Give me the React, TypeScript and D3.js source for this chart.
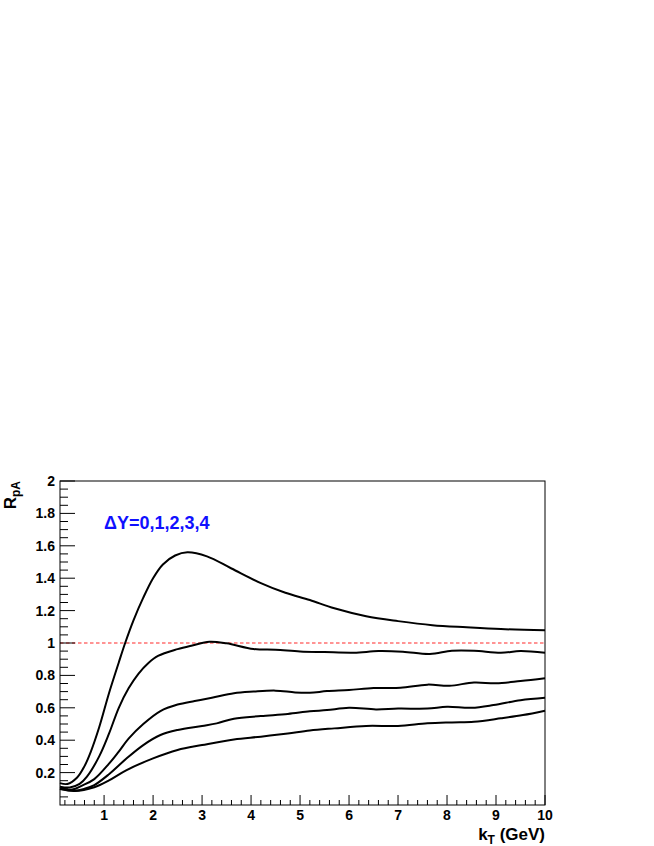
import React from "react";
import * as d3 from "d3";

const W = 654;
const H = 846;

const kT0 = [0.1, 0.25, 0.45, 0.6, 0.73, 0.9, 1.1, 1.3, 1.43, 1.6, 1.8, 2.0, 2.2, 2.45, 2.7, 3.1, 3.6, 4.2, 4.7, 5.2, 5.7, 6.35, 7.0, 7.7, 8.4, 9.1, 10];
const r0 = [0.135, 0.13, 0.17, 0.24, 0.33, 0.48, 0.69, 0.88, 1.0, 1.14, 1.28, 1.4, 1.485, 1.54, 1.56, 1.535, 1.46, 1.37, 1.31, 1.265, 1.214, 1.165, 1.135, 1.11, 1.097, 1.086, 1.078];

const kT1 = [0.1, 0.3, 0.5, 0.65, 0.9, 1.1, 1.3, 1.5, 1.7, 1.9, 2.1, 2.5, 2.8, 3.15, 3.5, 4.05, 4.5, 5.0, 5.5, 6.1, 6.6, 7.1, 7.65, 8.1, 8.55, 9.1, 9.5, 10];
const r1 = [0.113, 0.108, 0.13, 0.175, 0.3, 0.44, 0.6, 0.72, 0.81, 0.875, 0.92, 0.962, 0.985, 1.008, 0.998, 0.963, 0.958, 0.948, 0.944, 0.94, 0.95, 0.946, 0.932, 0.952, 0.952, 0.94, 0.95, 0.94];

const kT2 = [0.1, 0.35, 0.55, 0.8, 1.1, 1.3, 1.5, 1.8, 2.15, 2.5, 2.85, 3.2, 3.65, 4.05, 4.5, 4.9, 5.2, 5.55, 6.0, 6.5, 7.05, 7.6, 8.05, 8.55, 9.0, 9.5, 10];
const r2 = [0.103, 0.095, 0.12, 0.16, 0.255, 0.33, 0.41, 0.5, 0.58, 0.62, 0.642, 0.662, 0.69, 0.7, 0.706, 0.695, 0.693, 0.703, 0.71, 0.722, 0.724, 0.743, 0.736, 0.756, 0.751, 0.765, 0.782];

const kT3 = [0.1, 0.4, 0.6, 0.8, 1.1, 1.45, 1.8, 2.15, 2.5, 3.0, 3.3, 3.65, 4.2, 4.75, 5.2, 5.55, 6.0, 6.55, 7.0, 7.6, 8.0, 8.5, 8.95, 9.5, 10];
const r3 = [0.1, 0.088, 0.1, 0.123, 0.19, 0.285, 0.37, 0.432, 0.463, 0.488, 0.504, 0.533, 0.549, 0.562, 0.578, 0.586, 0.6, 0.59, 0.595, 0.595, 0.606, 0.6, 0.617, 0.647, 0.662];

const kT4 = [0.1, 0.4, 0.8, 1.1, 1.45, 2.0, 2.5, 3.0, 3.65, 4.2, 4.75, 5.2, 5.7, 6.35, 7.0, 7.6, 8.1, 8.55, 9.1, 9.55, 10];
const r4 = [0.098, 0.086, 0.11, 0.152, 0.214, 0.288, 0.34, 0.37, 0.405, 0.422, 0.442, 0.46, 0.473, 0.488, 0.488, 0.504, 0.51, 0.514, 0.535, 0.555, 0.582];

const xTickLabels = ["1", "2", "3", "4", "5", "6", "7", "8", "9", "10"];
const yTickLabels = ["0.2", "0.4", "0.6", "0.8", "1", "1.2", "1.4", "1.6", "1.8", "2"];

const series = [
  { k: kT0, r: r0 },
  { k: kT1, r: r1 },
  { k: kT2, r: r2 },
  { k: kT3, r: r3 },
  { k: kT4, r: r4 },
];

const left = 60;
const right = 545;
const top = 481;
const bottom = 805;

export default function App() {
  const x = d3.scaleLinear().domain([0.1, 10]).range([left, right]);
  const y = d3.scaleLinear().domain([0, 2]).range([bottom, top]);

  const line = d3
    .line<[number, number]>()
    .x((d) => x(d[0]))
    .y((d) => y(d[1]))
    .curve(d3.curveCatmullRom.alpha(0.5));

  const xMinor = d3.range(1, 51).map((i) => i * 0.2).filter((v) => v <= 10.001 && Math.abs(v - Math.round(v)) > 0.01);
  const yMinor = d3.range(1, 40).map((i) => i * 0.05).filter((v) => Math.abs(v * 5 - Math.round(v * 5)) > 0.01);

  const font = "'Liberation Sans', Arial, Helvetica, sans-serif";

  return (
    <svg width={W} height={H} style={{ position: "absolute", left: 0, top: 0, background: "#fff" }} fontFamily={font}>
      <rect x={0} y={0} width={W} height={H} fill="#fff" />
      {/* reference line */}
      <line x1={x(0.1)} x2={x(10)} y1={y(1)} y2={y(1)} stroke="#ff7070" strokeWidth={1.5} strokeDasharray="3.5,2.5" />
      {/* curves */}
      {series.map((s, i) => (
        <path key={i} d={line(s.k.map((k, j) => [k, s.r[j]]) as [number, number][]) || ""} fill="none" stroke="#000" strokeWidth={2} />
      ))}
      {/* frame */}
      <rect x={left} y={top} width={right - left} height={bottom - top} fill="none" stroke="#000" strokeWidth={1} />
      {/* x ticks */}
      {xTickLabels.map((t) => (
        <g key={t}>
          <line x1={x(+t)} x2={x(+t)} y1={bottom} y2={bottom - 10} stroke="#000" strokeWidth={1} />
          <text x={x(+t)} y={820} fontSize={14} fontWeight="bold" textAnchor="middle">{t}</text>
        </g>
      ))}
      {xMinor.map((v, i) => (
        <line key={i} x1={x(v)} x2={x(v)} y1={bottom} y2={bottom - 5} stroke="#000" strokeWidth={1} />
      ))}
      {/* y ticks */}
      {yTickLabels.map((t) => (
        <g key={t}>
          <line x1={left} x2={left + 15} y1={y(+t)} y2={y(+t)} stroke="#000" strokeWidth={1} />
          <text x={55} y={y(+t)} dy="0.36em" fontSize={14} fontWeight="bold" textAnchor="end">{t}</text>
        </g>
      ))}
      {yMinor.map((v, i) => (
        <line key={i} x1={left} x2={left + 8} y1={y(v)} y2={y(v)} stroke="#000" strokeWidth={1} />
      ))}
      {/* axis titles */}
      <text x={right} y={840} fontSize={17} fontWeight="bold" textAnchor="end">
        k<tspan fontSize={12} dy={4}>T</tspan>
        <tspan dy={-4}> (GeV)</tspan>
      </text>
      <text transform={`translate(15.5, ${top}) rotate(-90)`} fontSize={17} fontWeight="bold" textAnchor="end">
        R<tspan fontSize={12} dy={4}>pA</tspan>
      </text>
      {/* legend */}
      <text x={104} y={529} fontSize={18} fontWeight="bold" fill="#1010ff">ΔY=0,1,2,3,4</text>
    </svg>
  );
}
